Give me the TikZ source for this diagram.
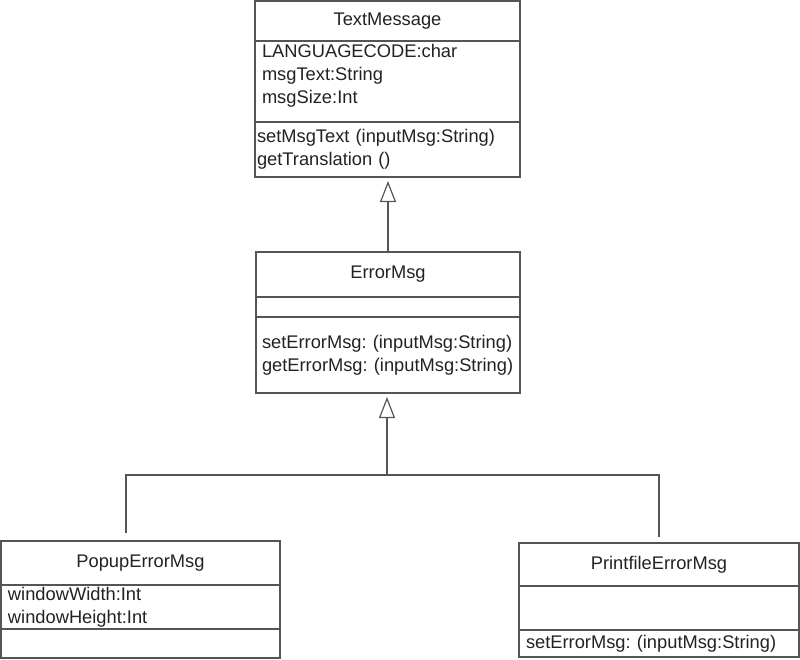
\documentclass[tikz,border=0pt]{standalone}
\usepackage{fontspec}
\setmainfont{Liberation Sans}
\usetikzlibrary{arrows.meta,positioning}
\definecolor{UmlLine}{HTML}{555555}
\definecolor{UmlText}{HTML}{222222}

\begin{document}
\begin{tikzpicture}[x=1pt, y=-1pt,
  font=\fontsize{18.3}{23}\selectfont,
  cls/.style={draw=UmlLine, line width=1.2pt, text=UmlText, inner sep=0pt, outer sep=0pt, align=center, anchor=north west},
  part/.style={draw=UmlLine, line width=1.2pt, text=UmlText, inner xsep=7pt, inner ysep=0pt, outer sep=0pt, align=left},
  inherit/.style={-{Triangle[open, length=21pt, width=16pt]}, draw=UmlLine, line width=1.2pt, shorten >=4pt},
  link/.style={draw=UmlLine, line width=1.2pt}
]
\useasboundingbox (0,0) rectangle (800,659);

% base class
\node[cls, minimum width=265pt, minimum height=40pt] (tm) at (255,1) {TextMessage};
\node[part, below=0pt of tm, text width=251pt, minimum height=81pt] (tm-attr) {LANGUAGECODE:char\\msgText:String\\msgSize:Int\\[-7pt]\mbox{}};
\node[part, below=0pt of tm-attr, inner xsep=2pt, text width=261pt, minimum height=55pt] (tm-ops) {setMsgText~(inputMsg:String)\\getTranslation~()};

% middle class
\node[cls, minimum width=264pt, minimum height=45pt] (em) at (256,252) {ErrorMsg};
\node[part, below=0pt of em, text width=250pt, minimum height=20pt] (em-attr) {};
\node[part, below=0pt of em-attr, inner xsep=6pt, text width=252pt, minimum height=76pt] (em-ops) {setErrorMsg:~(inputMsg:String)\\getErrorMsg:~(inputMsg:String)};

% subclasses
\node[cls, minimum width=279pt, minimum height=44pt] (popup) at (1,541) {PopupErrorMsg};
\node[part, below=0pt of popup, text width=265pt, minimum height=44pt] (popup-attr) {windowWidth:Int\\windowHeight:Int};
\node[part, below=0pt of popup-attr, text width=265pt, minimum height=29pt] (popup-ops) {};

\node[cls, minimum width=280pt, minimum height=43pt] (print) at (519,543) {PrintfileErrorMsg};
\node[part, below=0pt of print, text width=266pt, minimum height=44pt] (print-attr) {};
\node[part, below=0pt of print-attr, text width=266pt, minimum height=27pt] (print-ops) {setErrorMsg:~(inputMsg:String)};

\coordinate (fork) at (387,475);

\draw[inherit] (em.north) -- (em.north |- tm-ops.south);
\draw[inherit] (fork) -- (fork |- em-ops.south);
\draw[link] ([xshift=-14.5pt, yshift=8pt]popup.north) |- (fork) -| ([yshift=6pt]print.north);
\end{tikzpicture}
\end{document}
